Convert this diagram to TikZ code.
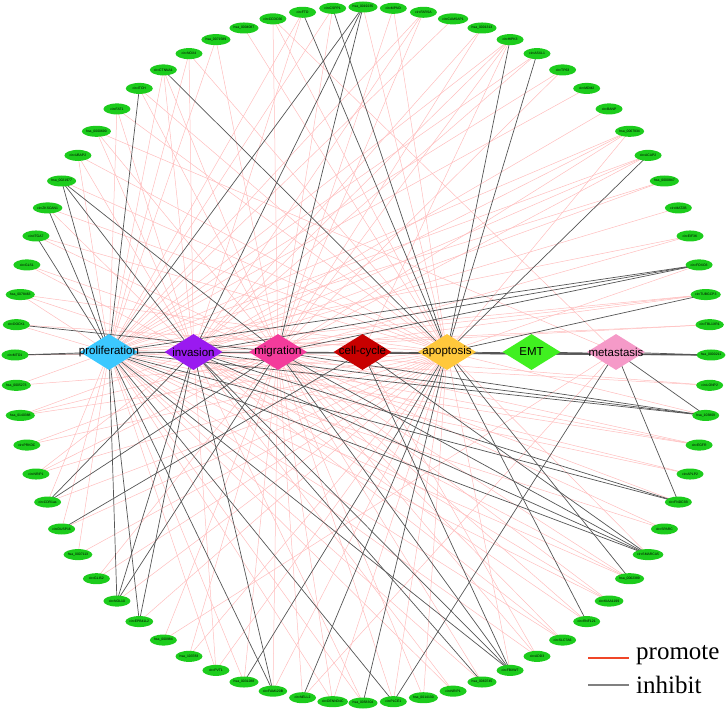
\documentclass[tikz,border=0pt]{standalone}
\usepackage{fontspec}
\setmainfont{Liberation Serif}
\newfontfamily\arialfont{Liberation Sans}
\usetikzlibrary{shapes.geometric,backgrounds}
\definecolor{cgreen}{HTML}{1CCC1C}
\definecolor{cP}{HTML}{3CC8FF}
\definecolor{cI}{HTML}{9A1AF0}
\definecolor{cM}{HTML}{F43B9B}
\definecolor{cC}{HTML}{C80000}
\definecolor{cA}{HTML}{FFC83C}
\definecolor{cE}{HTML}{40F020}
\definecolor{cT}{HTML}{F59AC8}
\definecolor{pinkline}{HTML}{FFBDBD}
\definecolor{darkline}{HTML}{555555}
\tikzset{
  cnode/.style={ellipse, fill=cgreen, minimum width=27pt, minimum height=11pt, inner sep=0pt, font=\arialfont\fontsize{3.4}{4}\selectfont},
  dia/.style={diamond, minimum width=58pt, minimum height=36pt, inner sep=0pt},
  dlab/.style={font=\arialfont\fontsize{11.5}{13}\selectfont, inner sep=0pt},
  pedge/.style={pinkline, line width=0.5pt},
  bedge/.style={darkline, line width=0.7pt},
  legtext/.style={font=\fontsize{25}{28}\selectfont, anchor=west, inner sep=0pt}
}
\begin{document}
\begin{tikzpicture}[x=1pt,y=-1pt]
\useasboundingbox (0,0) rectangle (726,711);
% circle nodes
\foreach \lab [count=\i] in {hsa\_0019235,circMPND,circFARSA,circCAMSAP1,hsa\_0001313,circHIPK3,circASXL1,circTP63,circMDM2,circBANP,hsa\_0067934,circACAP2,hsa\_0000847,circMAT2B,circEIF3K,circFOXO3,circTUBGCP3,circTBL1XR1,hsa\_0000211,circLONP2,hsa\_103809,circEGFR,circAPLP2,circFNDC3B,circSPARC,circSMARCA5,hsa\_0062389,circKIAA1199,circRNF121,circSLC7A6,circADD3,circFBXW7,hsa\_0060745,circNRIP1,hsa\_0014130,circPLCE1,hsa\_0058304,circDENND4C,circNELL2,circFAM120B,hsa\_0031288,circPVT1,hsa\_103783,hsa\_000984,circEPB41L2,circNOL10,circGLIS2,hsa\_0007113,circDUSP16,circCDR1as,circNRIP1,circPRKDC,hsa\_0140388,hsa\_0005273,circMTO1,circDOCK1,hsa\_0078463,circGLS1,circITGA7,circZKSCAN1,hsa\_0021977,circUBAP2,hsa\_0000690,circFAT1,circITCH,circCTNNA1,circNOX4,hsa\_0071589,hsa\_0004087,circCCDC66,circFTO,circCSPP1}
  \node[cnode] (n\i) at ({363+348*cos(95-5*\i)},{355-348*sin(95-5*\i)}) {\lab};
% diamonds
\node[dia, fill=cP] (P) at (109,352) {};
\node[dia, fill=cI] (I) at (193.5,352) {};
\node[dia, fill=cM] (M) at (278,352) {};
\node[dia, fill=cC] (C) at (362.5,352) {};
\node[dia, fill=cA] (A) at (447,352) {};
\node[dia, fill=cE] (E) at (531.5,352) {};
\node[dia, fill=cT] (T) at (616,352) {};
\node[dlab] (Pl) at (P) {proliferation};
\node[dlab] (Il) at (I) {invasion};
\node[dlab] (Ml) at (M) {migration};
\node[dlab] (Cl) at (C) {cell-cycle};
\node[dlab] (Al) at (A) {apoptosis};
\node[dlab] (El) at (E) {EMT};
\node[dlab] (Tl) at (T) {metastasis};
\begin{pgfonlayer}{background}
% promote
\foreach \a/\b in {1/A,2/M,2/A,3/P,3/I,3/M,4/P,5/I,5/M,6/P,6/I,6/M,6/C,7/P,7/I,8/P,8/M,9/P,10/I,
  11/P,11/I,11/M,11/A,12/P,12/I,12/M,13/P,13/I,14/I,15/P,15/M,16/A,17/P,17/I,17/M,18/P,18/I,
  20/P,20/M,21/A,22/P,22/I,22/M,23/P,23/I,24/M,25/P,25/M,26/A,27/P,27/I,27/M,28/P,28/I,28/M,
  29/I,29/M,30/P,30/I,30/M,31/P,31/M,31/C,32/A,33/P,33/M,34/P,34/I,35/M,35/A,36/M,36/A,37/P,37/I,
  38/P,38/M,38/A,39/M,39/T,40/M,40/A,41/P,41/M,42/P,42/I,42/A,43/M,43/A,44/M,44/T,45/A,46/A,
  47/M,47/A,48/P,48/A,49/P,49/A,50/P,50/A,51/I,51/M,51/A,52/A,52/M,53/I,53/M,53/A,54/P,54/A,
  55/A,56/P,56/A,57/P,57/I,57/A,58/I,58/M,59/M,59/A,60/I,60/A,61/A,62/P,62/I,62/A,
  63/I,63/M,63/T,64/P,64/I,64/A,65/M,65/A,66/P,66/I,66/M,67/P,67/I,67/A,68/P,68/M,69/A,
  70/A,70/M,70/T,71/P,71/I,72/P,72/M}
  \draw[pedge] (n\a.center) -- (\b.center);
% inhibit
\foreach \a/\b in {1/P,1/I,1/M,6/A,7/A,12/A,16/P,16/I,16/M,17/A,19/P,19/I,19/M,19/C,19/A,19/E,19/T,
  21/P,21/I,21/M,21/T,24/P,24/I,24/T,26/P,26/I,26/M,26/C,27/A,29/A,32/P,32/I,32/M,32/C,33/I,
  36/P,36/T,37/A,39/A,40/P,40/I,41/A,45/P,45/I,46/P,46/I,46/M,49/C,50/I,50/M,55/P,55/I,56/M,
  59/P,60/P,61/P,61/I,61/M,65/P,66/A,71/A,72/A}
  \draw[bedge] (n\a.center) -- (\b.center);
\end{pgfonlayer}
% legend
\coordinate (lp1) at (588,658);
\coordinate (lp2) at (629,658);
\coordinate (li1) at (588,685);
\coordinate (li2) at (629,685);
\draw[color={rgb,255:red,240;green,70;blue,40}, line width=1.4pt] (lp1) -- (lp2);
\draw[color=gray, line width=1.4pt] (li1) -- (li2);
\node[legtext] (lpt) at (636,655) {promote};
\node[legtext] (lit) at (636,685) {inhibit};
\end{tikzpicture}
\end{document}
